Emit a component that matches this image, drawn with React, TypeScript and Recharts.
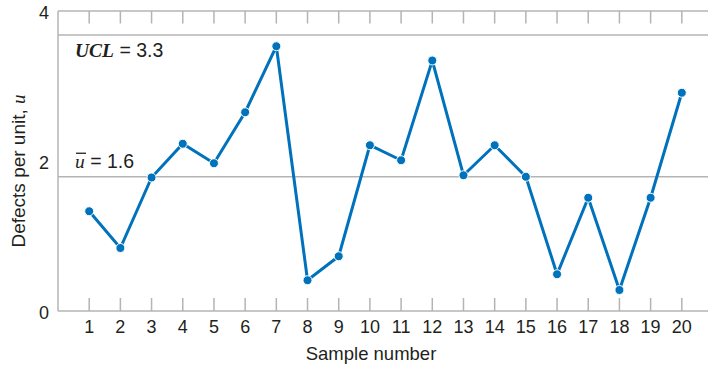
import React from 'react';
import { LineChart, Line, XAxis, YAxis, ReferenceLine } from 'recharts';

const samples = [1, 2, 3, 4, 5, 6, 7, 8, 9, 10, 11, 12, 13, 14, 15, 16, 17, 18, 19, 20];
const defectsPerUnit = [1.33, 0.84, 1.78, 2.23, 1.97, 2.65, 3.53, 0.41, 0.73, 2.21, 2.01, 3.34, 1.81, 2.21, 1.79, 0.49, 1.51, 0.28, 1.51, 2.91];
const yTicks = [0, 2, 4];
const rightTicks = [0, 1, 2, 3, 4, 5, 6, 7, 8, 9];
const uclLinePos = 3.68;
const centerLinePos = 1.79;
const uclText = ' = 3.3';
const centerText = ' = 1.6';

const data = samples.map((s, i) => ({ sample: s, u: defectsPerUnit[i] }));

const BLUE = '#0072bc';
const GRAY = '#b4b4b4';
const TEXT = '#231f20';
const SANS = '"Liberation Sans", Arial, sans-serif';
const SERIF = '"Liberation Serif", "Times New Roman", serif';

const BottomTick = (props: any) => {
  const { x, y, payload } = props;
  return (
    <g>
      <line x1={x} x2={x} y1={y} y2={y - 13} stroke={GRAY} strokeWidth={1.5} />
      <text x={x} y={y + 22} textAnchor="middle" fontSize={18} fontFamily={SANS} fill={TEXT}>
        {payload.value}
      </text>
    </g>
  );
};

const TopTick = (props: any) => {
  const { x, y } = props;
  return <line x1={x} x2={x} y1={y} y2={y + 12.5} stroke={GRAY} strokeWidth={1.5} />;
};

const LeftTick = (props: any) => {
  const { x, y, payload } = props;
  return (
    <text x={x - 9} y={y + 8} textAnchor="end" fontSize={18} fontFamily={SANS} fill={TEXT}>
      {payload.value}
    </text>
  );
};

const RightTick = (props: any) => {
  const { x, y } = props;
  return <line x1={x} x2={x - 11} y1={y} y2={y} stroke={GRAY} strokeWidth={1.5} />;
};

const UclLabel = (props: any) => {
  const vb = props.viewBox || {};
  return (
    <text x={75} y={vb.y + 22} fontSize={19.5} fill={TEXT} fontFamily={SANS}>
      <tspan fontFamily={SERIF} fontStyle="italic" fontWeight="bold">UCL</tspan>
      <tspan>{uclText}</tspan>
    </text>
  );
};

const CenterLabel = (props: any) => {
  const vb = props.viewBox || {};
  const by = vb.y - 9;
  return (
    <g>
      <line x1={76} x2={86} y1={by - 14.5} y2={by - 14.5} stroke={TEXT} strokeWidth={1.3} />
      <text x={75} y={by} fontSize={19.5} fill={TEXT} fontFamily={SANS}>
        <tspan fontFamily={SERIF} fontStyle="italic">u</tspan>
        <tspan>{centerText}</tspan>
      </text>
    </g>
  );
};

const YTitle = () => (
  <text
    x={0}
    y={0}
    transform="translate(25,171) rotate(-90)"
    textAnchor="middle"
    fontSize={19}
    fill={TEXT}
    fontFamily={SANS}
  >
    <tspan>Defects per unit, </tspan>
    <tspan fontFamily={SERIF} fontStyle="italic">u</tspan>
  </text>
);

const XTitle = () => (
  <text x={371} y={360} textAnchor="middle" fontSize={18.5} fill={TEXT} fontFamily={SANS}>
    Sample number
  </text>
);

export default function App() {
  return (
    <div style={{ position: 'absolute', left: 0, top: 0, width: 708, height: 365, overflow: 'hidden', background: '#fff' }}>
      <LineChart width={720} height={365} data={data} margin={{ top: 0, right: 7, bottom: 0, left: 0 }}>
        <XAxis
          xAxisId="top"
          orientation="top"
          dataKey="sample"
          type="number"
          domain={[0, 21]}
          ticks={samples}
          height={11}
          tickSize={0}
          tickMargin={0}
          tick={<TopTick />}
          axisLine={{ stroke: GRAY, strokeWidth: 1.5 }}
        />
        <XAxis
          xAxisId="bottom"
          orientation="bottom"
          dataKey="sample"
          type="number"
          domain={[0, 21]}
          ticks={samples}
          height={54}
          tickSize={0}
          tickMargin={0}
          tick={<BottomTick />}
          axisLine={{ stroke: GRAY, strokeWidth: 1.5 }}
          label={{ content: () => <XTitle /> }}
        />
        <YAxis
          yAxisId="left"
          orientation="left"
          type="number"
          domain={[0, 4]}
          ticks={yTicks}
          width={58}
          tickSize={0}
          tickMargin={0}
          tick={<LeftTick />}
          axisLine={{ stroke: GRAY, strokeWidth: 1.5 }}
          label={{ content: () => <YTitle /> }}
        />
        <YAxis
          yAxisId="right"
          orientation="right"
          type="number"
          domain={[0, 9]}
          ticks={rightTicks}
          width={0}
          tickSize={0}
          tickMargin={0}
          tick={<RightTick />}
          axisLine={{ stroke: GRAY, strokeWidth: 1.5 }}
        />
        <ReferenceLine
          xAxisId="bottom"
          yAxisId="left"
          y={uclLinePos}
          stroke={GRAY}
          strokeWidth={1.5}
          label={<UclLabel />}
        />
        <ReferenceLine
          xAxisId="bottom"
          yAxisId="left"
          y={centerLinePos}
          stroke={GRAY}
          strokeWidth={1.5}
          label={<CenterLabel />}
        />
        <Line
          xAxisId="bottom"
          yAxisId="left"
          dataKey="u"
          type="linear"
          stroke={BLUE}
          strokeWidth={3}
          dot={{ r: 4.5, fill: BLUE, stroke: '#fff', strokeWidth: 1 }}
          activeDot={false}
          isAnimationActive={false}
        />
      </LineChart>
    </div>
  );
}
